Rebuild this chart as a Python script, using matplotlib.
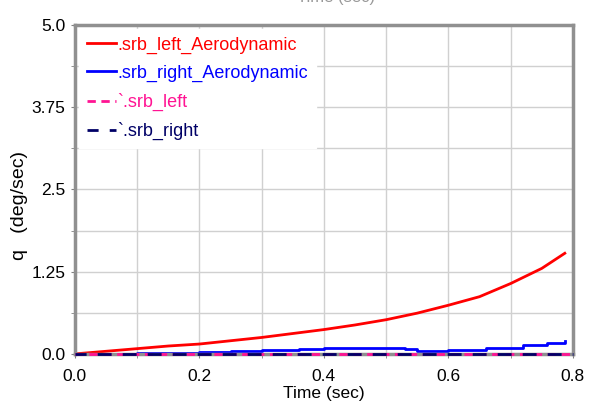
import numpy as np
import matplotlib.pyplot as plt

plt.rcParams['font.family'] = ['Liberation Sans', 'DejaVu Sans']

# data
t_left_aero = [0.0, 0.05, 0.1, 0.15, 0.2, 0.25, 0.3, 0.35, 0.4, 0.45, 0.5,
               0.55, 0.6, 0.65, 0.7, 0.75, 0.787]
q_left_aero = [0.0, 0.04, 0.08, 0.12, 0.15, 0.2, 0.25, 0.31, 0.37, 0.44, 0.52,
               0.62, 0.74, 0.87, 1.07, 1.3, 1.53]

t_right_aero = [0.0, 0.1, 0.2, 0.25, 0.3, 0.36, 0.4, 0.5, 0.53, 0.55, 0.6, 0.66,
                0.72, 0.758, 0.787]
q_right_aero = [0.0, 0.01, 0.03, 0.05, 0.06, 0.08, 0.09, 0.09, 0.08, 0.05, 0.06, 0.09,
                0.13, 0.17, 0.2]

t_flat = [0.0, 0.8]
q_left = [0.0, 0.0]
q_right = [0.0, 0.0]

yticks = [0.0, 1.25, 2.5, 3.75, 5.0]
xticks = [0.0, 0.2, 0.4, 0.6, 0.8]

fig = plt.figure(figsize=(5.9, 4.04), dpi=100)
ax = fig.add_axes([0.127, 0.124, 0.844, 0.814])

ax.plot(t_left_aero, q_left_aero, color='#ff0000', lw=2, label='.srb_left_Aerodynamic')
ax.plot(t_right_aero, q_right_aero, color='#0000ff', lw=2, drawstyle='steps-post',
        label='.srb_right_Aerodynamic')
ax.plot(t_flat, q_left, color='#ff1493', lw=2, ls=(0, (3, 2)), label='`.srb_left',
        clip_on=False, zorder=4)
ax.plot(t_flat, q_right, color='#000066', lw=2, ls=(1, (5, 4)), label='`.srb_right',
        clip_on=False, zorder=4)

ax.set_xlim(0, 0.8)
ax.set_ylim(0, 5.0)
ax.set_xticks(xticks)
ax.set_xticklabels(['0.0', '0.2', '0.4', '0.6', '0.8'])
ax.set_yticks(yticks)
ax.set_yticklabels(['0.0', '1.25', '2.5', '3.75', '5.0'])
ax.set_xticks(np.arange(0.1, 0.8, 0.2), minor=True)
ax.set_yticks(np.arange(0.625, 5.0, 1.25), minor=True)
ax.grid(True, which='both', color='#d0d0d0', lw=1)
ax.set_axisbelow(True)
ax.tick_params(which='both', length=3, color='#808080', labelsize=12.5, pad=4)
ax.tick_params(axis='x', pad=8)

for side in ['left', 'top', 'bottom', 'right']:
    ax.spines[side].set_color('#909090')
    ax.spines[side].set_linewidth(2.5)

ax.set_xlabel('Time (sec)', fontsize=12.5, labelpad=1)
ax.set_ylabel('q   (deg/sec)', fontsize=14)
ax.yaxis.set_label_coords(-0.094, 0.45)
fig.text(0.57, 1.005, 'Time (sec)', fontsize=12, ha='center', va='center', color='#999999')

leg = ax.legend(loc='upper left', fontsize=13, frameon=True, fancybox=False,
                edgecolor='white', framealpha=1, labelcolor='linecolor',
                handlelength=1.6, handletextpad=0.1, borderaxespad=0.2,
                labelspacing=0.6, borderpad=0.45)

fig.savefig('out.png', dpi=100)
